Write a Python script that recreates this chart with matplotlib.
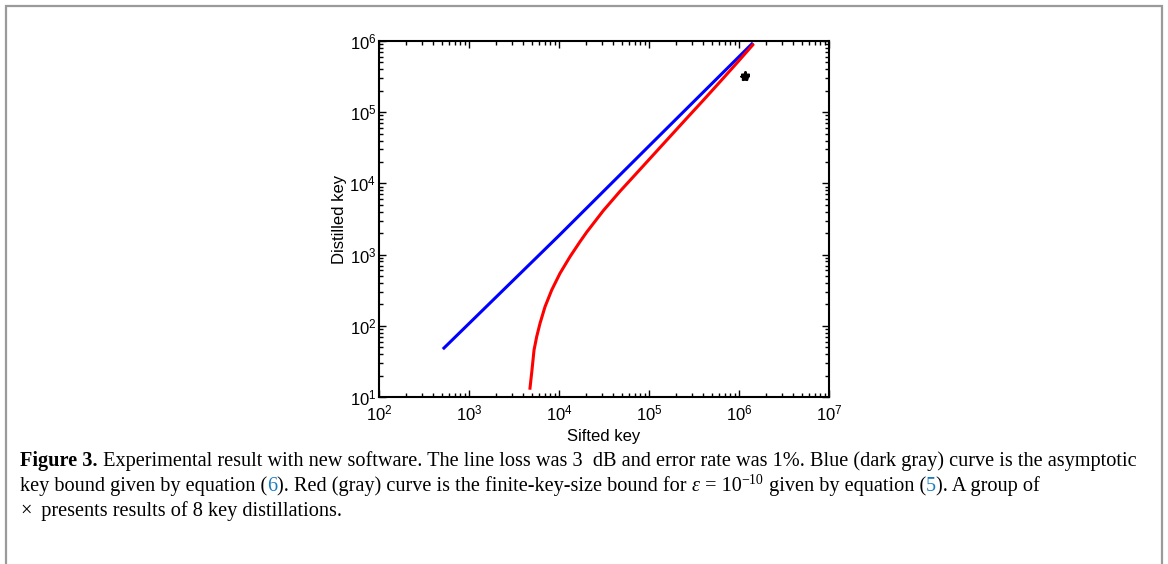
import matplotlib
matplotlib.use("Agg")
import matplotlib.pyplot as plt
from matplotlib.patches import Rectangle
from matplotlib.transforms import IdentityTransform

plt.rcParams['font.family'] = 'Liberation Sans'
plt.rcParams['mathtext.fontset'] = 'custom'
plt.rcParams['mathtext.rm'] = 'Liberation Sans'
plt.rcParams['mathtext.it'] = 'Liberation Sans:italic'

# asymptotic key bound, eq. (6) -- blue
asym_sifted = [527, 1.0e4, 1.0e5, 1.39e6]
asym_distilled = [48.7, 1850, 33500, 9.1e5]

# finite-key-size bound, eq. (5) -- red
finite_sifted = [4760, 5010, 5280, 5650, 6150, 6990, 8300, 10260, 13250,
                 17100, 20300, 31000, 47600, 73000, 1.11e5, 1.71e5,
                 2.64e5, 4.01e5, 6.15e5, 9.43e5, 1.42e6]
finite_distilled = [13.3, 23.9, 45.7, 70.3, 108, 185, 318, 546, 934,
                    1517, 2065, 4130, 7740, 13960, 24950, 45400,
                    82800, 1.47e5, 2.67e5, 4.88e5, 8.8e5]

# 8 key distillations
runs_sifted = [1.15e6, 1.16e6, 1.17e6, 1.18e6, 1.17e6, 1.16e6, 1.18e6, 1.17e6]
runs_distilled = [3.1e5, 3.2e5, 3.3e5, 3.25e5, 3.15e5, 3.35e5, 3.2e5, 3.28e5]

W, H = 1168, 564
fig = plt.figure(figsize=(W / 100, H / 100), dpi=100)

# page frame
fig.patches.append(Rectangle((6 / W, -0.05), 1156 / W, 1.05 - 6 / H,
                             transform=fig.transFigure, fill=False,
                             ec='#9a9a9a', lw=1.6))

ax = fig.add_axes([379 / W, 1 - 397 / H, 450 / W, 356 / H])
ax.plot(asym_sifted, asym_distilled, color='#0000ff', lw=2.2)
ax.plot(finite_sifted, finite_distilled, color='#ff0000', lw=2.2)
ax.plot(runs_sifted, runs_distilled, ls='none', marker='.', color='#ff0000',
        ms=4)
ax.plot(runs_sifted, runs_distilled, ls='none', marker='*', color='black',
        ms=6)
ax.set_xscale('log')
ax.set_yscale('log')
ax.set_xlim(1e2, 1e7)
ax.set_ylim(1e1, 1e6)
ax.set_xlabel('Sifted key', fontsize=12, labelpad=4)
ax.set_ylabel('Distilled key', fontsize=12, labelpad=2)
ax.tick_params(which='both', direction='in', top=True, right=True,
               labelsize=12, width=1, pad=2)
ax.tick_params(axis='x', which='both', pad=5)
ax.tick_params(which='major', length=5)
ax.tick_params(which='minor', length=3)
for s in ax.spines.values():
    s.set_linewidth(1.5)

# caption, laid out piece by piece
serif = 'Liberation Serif'
link = '#1b7dbd'
r = fig.canvas.get_renderer()


def advance(s, **kw):
    a = fig.text(0, 0, '|' + s + '|', **kw)
    b = fig.text(0, 0, '||', **kw)
    w = a.get_window_extent(r).width - b.get_window_extent(r).width
    a.remove()
    b.remove()
    return w


def caption_line(y, parts, x=20):
    for s, kw in parts:
        opts = dict(family=serif, fontsize=14.6, color='black')
        opts.update(kw)
        rise = opts.pop('rise', 0)
        fig.text(x, H - y + rise, s, transform=IdentityTransform(),
                 va='baseline', ha='left', **opts)
        x += advance(s, family=opts['family'], fontsize=opts['fontsize'],
                     fontweight=opts.get('fontweight', 'normal'),
                     fontstyle=opts.get('fontstyle', 'normal'))


caption_line(466, [
    ('Figure 3.', dict(fontweight='bold')),
    (' Experimental result with new software. The line loss was 3  dB and '
     'error rate was 1%. Blue (dark gray) curve is the asymptotic', {}),
])
caption_line(491, [
    ('key bound given by equation (', {}),
    ('6', dict(color=link)),
    ('). Red (gray) curve is the finite-key-size bound for ', {}),
    ('\u03b5', dict(fontstyle='italic')),
    (' = 10', {}),
    ('\u221210', dict(fontsize=10, rise=7)),
    (' given by equation (', {}),
    ('5', dict(color=link)),
    ('). A group of', {}),
])
caption_line(516, [
    ('\u00d7', {}),
    ('  presents results of 8 key distillations.', {}),
])

fig.savefig('out.png', dpi=100)
